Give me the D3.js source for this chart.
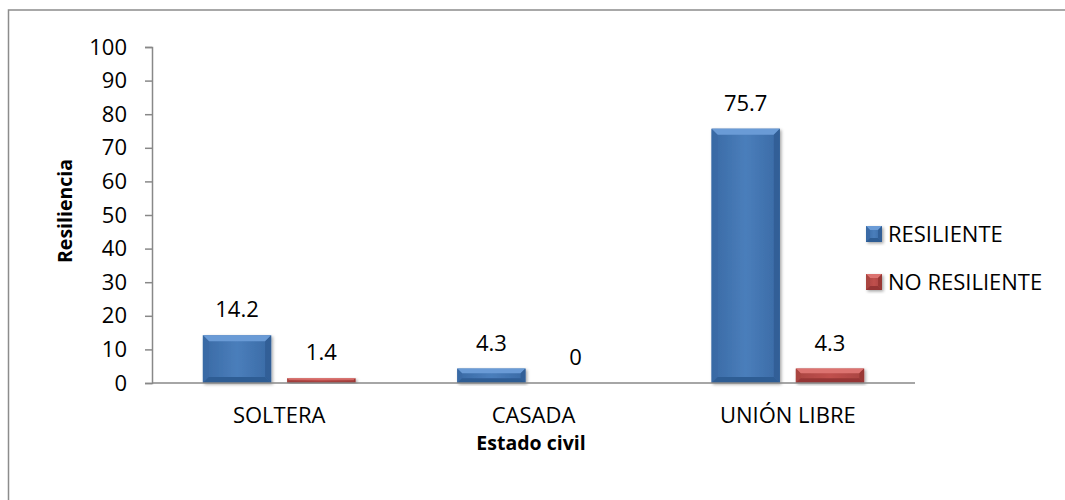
<!DOCTYPE html>
<html>
<head>
<meta charset="utf-8">
<script src="https://cdn.jsdelivr.net/npm/d3@7"></script>
<style>
  html, body { margin: 0; padding: 0; background: #fff; }
  svg { display: block; font-family: "Open Sans", sans-serif; }
</style>
</head>
<body>
<svg id="chart" width="1065" height="500"></svg>
<script>
// Data
const categories = ["SOLTERA", "CASADA", "UNIÓN LIBRE"];
const seriesNames = ["RESILIENTE", "NO RESILIENTE"];
const resiliente = [14.2, 4.3, 75.7];
const noResiliente = [1.4, 0, 4.3];
const yTicks = [0, 10, 20, 30, 40, 50, 60, 70, 80, 90, 100];

const seriesValues = [resiliente, noResiliente];
const palette = [
  { base: "#4a7ebb", light: "#6b9bd6", dark: "#2f5d94", edge: "#3a6aa5" },
  { base: "#c0504d", light: "#dc7370", dark: "#963634", edge: "#a94441" }
];
const FONT = "'Open Sans', sans-serif";
const FS = 22;
const TITLE_FS = 19.5;

const svg = d3.select("#chart");
const margin = { left: 152, right: 150, top: 47, bottom: 117 };

// Outer chart-area frame
svg.append("rect")
  .attr("x", 8.5).attr("y", 10)
  .attr("width", 1070).attr("height", 500)
  .attr("fill", "none").attr("stroke", "#8c8c8c").attr("stroke-width", 1.5);

const x0 = d3.scaleBand().domain(categories)
  .range([margin.left, 915]).paddingInner(0.4).paddingOuter(0.2);
const x1 = d3.scaleBand().domain(seriesNames)
  .range([0, x0.bandwidth()]).paddingInner(0.19);
const y = d3.scaleLinear().domain([0, 100]).range([383, 47]);

const defs = svg.append("defs");
palette.forEach((p, i) => {
  const g = defs.append("linearGradient").attr("id", "grad" + i)
    .attr("x1", 0).attr("x2", 1).attr("y1", 0).attr("y2", 0);
  g.append("stop").attr("offset", "0%").attr("stop-color", p.edge);
  g.append("stop").attr("offset", "50%").attr("stop-color", p.base);
  g.append("stop").attr("offset", "100%").attr("stop-color", p.edge);
});
const shadow = defs.append("filter").attr("id", "shadow")
  .attr("x", "-20%").attr("y", "-20%").attr("width", "140%").attr("height", "140%");
shadow.append("feDropShadow").attr("dx", 1.5).attr("dy", 1.5)
  .attr("stdDeviation", 1.5).attr("flood-color", "#000").attr("flood-opacity", 0.35);

// Y axis
const yAxis = d3.axisLeft(y).tickValues(yTicks).tickSize(7).tickPadding(18)
  .tickFormat(d3.format("d"));
const gy = svg.append("g").attr("transform", `translate(${margin.left},0)`).call(yAxis);
gy.select(".domain").attr("stroke", "#888").attr("stroke-width", 1.5);
gy.selectAll(".tick line").attr("stroke", "#888").attr("stroke-width", 1.5);
gy.selectAll(".tick text").attr("font-size", FS).attr("fill", "#000")
  .attr("font-family", FONT);

// Bevelled bar drawing
function drawBar(g, x, w, yTop, yBot, p, i) {
  const h = yBot - yTop;
  if (h <= 0) return;
  const b = Math.min(6, h / 3, w / 4);
  const grp = g.append("g").attr("filter", "url(#shadow)");
  grp.append("rect").attr("x", x).attr("y", yTop).attr("width", w).attr("height", h)
    .attr("fill", `url(#grad${i})`);
  // top bevel
  grp.append("path")
    .attr("d", `M${x},${yTop} L${x + w},${yTop} L${x + w - b},${yTop + b} L${x + b},${yTop + b} Z`)
    .attr("fill", p.light);
  // left bevel
  grp.append("path")
    .attr("d", `M${x},${yTop} L${x + b},${yTop + b} L${x + b},${yBot - b} L${x},${yBot} Z`)
    .attr("fill", p.edge).attr("opacity", 0.85);
  // right bevel
  grp.append("path")
    .attr("d", `M${x + w},${yTop} L${x + w - b},${yTop + b} L${x + w - b},${yBot - b} L${x + w},${yBot} Z`)
    .attr("fill", p.dark).attr("opacity", 0.85);
  // bottom bevel
  grp.append("path")
    .attr("d", `M${x},${yBot} L${x + b},${yBot - b} L${x + w - b},${yBot - b} L${x + w},${yBot} Z`)
    .attr("fill", p.dark);
}

const bars = svg.append("g");
categories.forEach((c, ci) => {
  seriesNames.forEach((s, si) => {
    const v = seriesValues[si][ci];
    const bx = x0(c) + x1(s);
    drawBar(bars, bx, x1.bandwidth(), y(v), y(0), palette[si], si);
    svg.append("text")
      .attr("x", bx + x1.bandwidth() / 2)
      .attr("y", y(v) - 18)
      .attr("text-anchor", "middle")
      .attr("font-size", FS).attr("fill", "#000")
      .text(v);
  });
});

// X axis
const xAxis = d3.axisBottom(x0).tickSize(0).tickPadding(24);
const gx = svg.append("g").attr("transform", `translate(0,${y(0)})`).call(xAxis);
gx.select(".domain").attr("stroke", "#888").attr("stroke-width", 1.5)
  .attr("d", `M${margin.left},0H915`);
gx.selectAll(".tick text").attr("font-size", FS).attr("fill", "#000")
  .attr("font-family", FONT);

// Axis titles
svg.append("text")
  .attr("x", 531).attr("y", 450).attr("text-anchor", "middle")
  .attr("font-size", TITLE_FS).attr("font-weight", "bold").text("Estado civil");
svg.append("text")
  .attr("transform", "translate(72,211) rotate(-90)")
  .attr("text-anchor", "middle")
  .attr("font-size", TITLE_FS).attr("font-weight", "bold").text("Resiliencia");

// Legend
const legend = svg.append("g");
seriesNames.forEach((s, i) => {
  const ly = 234 + i * 48;
  const p = palette[i];
  drawBar(legend, 866, 16, ly - 8, ly + 8, p, i);
  legend.append("text").attr("x", 888).attr("y", ly).attr("dy", "0.35em")
    .attr("font-size", FS).attr("fill", "#000").text(s);
});
</script>
</body>
</html>
